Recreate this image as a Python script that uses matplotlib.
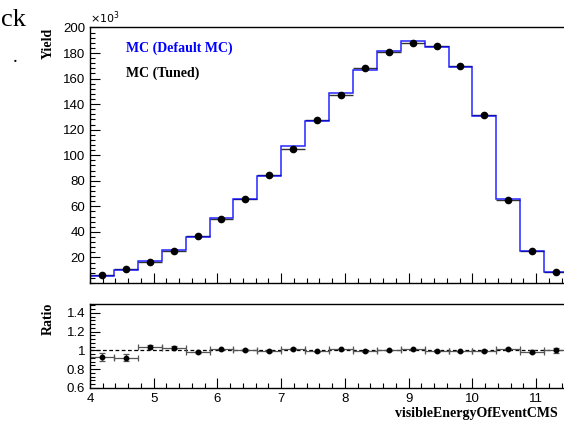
import numpy as np
import matplotlib
matplotlib.use("Agg")
import matplotlib.pyplot as plt
from matplotlib.ticker import MultipleLocator

# binning of visibleEnergyOfEventCMS
bin_edges = np.linspace(4.0, 11.5, 21)
bin_centers = 0.5 * (bin_edges[1:] + bin_edges[:-1])

# yields in units of 10^3
yield_tuned = [6.0, 10.7, 16.7, 25.1, 36.6, 50.0, 65.9, 84.7, 104.8, 127.8,
               147.5, 168.1, 180.9, 187.5, 185.9, 170.0, 131.5, 64.8, 25.4, 8.4]
yield_default = [5.6, 9.9, 17.4, 25.8, 36.1, 50.6, 66.1, 84.1, 107.0, 126.9,
                 149.1, 166.9, 181.4, 189.6, 184.6, 168.8, 130.6, 66.0, 25.0, 8.4]

# default / tuned
ratio = [0.929, 0.925, 1.039, 1.029, 0.986, 1.011, 1.003, 0.993, 1.021, 0.993,
         1.011, 0.993, 1.003, 1.011, 0.993, 0.993, 0.993, 1.018, 0.986, 1.000]
ratio_err = [0.043, 0.035, 0.020, 0.015, 0.010, 0.008, 0.008, 0.007, 0.007, 0.006,
             0.006, 0.006, 0.006, 0.006, 0.006, 0.006, 0.007, 0.010, 0.015, 0.025]

plt.rcParams["font.family"] = ["Liberation Sans", "DejaVu Sans"]
serif = ["Liberation Serif", "DejaVu Serif"]

W, H = 564, 428
fig = plt.figure(figsize=(W / 100, H / 100), dpi=100)

def box(x0, y0, x1, y1):
    return [x0 / W, 1 - y1 / H, (x1 - x0) / W, (y1 - y0) / H]

ax = fig.add_axes(box(90, 27.5, 568, 283))
rax = fig.add_axes(box(90, 303.6, 568, 388))

width = bin_edges[1] - bin_edges[0]

# tuned: horizontal bin bars underneath, default histogram on top, markers last
ax.errorbar(bin_centers, yield_tuned, xerr=width / 2, fmt="none",
            ecolor="#333333", elinewidth=1.0, capsize=0, zorder=1)
ax.stairs(yield_default, bin_edges, color="#0000ff", lw=1.1, baseline=None,
          alpha=0.85, zorder=2)
ax.plot(bin_centers, yield_tuned, "o", color="black", ms=4.5, zorder=3)

ax.set_xlim(4.0, 11.5)
ax.set_ylim(0, 200)
ax.xaxis.set_major_locator(MultipleLocator(1))
ax.xaxis.set_minor_locator(MultipleLocator(0.2))
ax.yaxis.set_minor_locator(MultipleLocator(4))
ax.tick_params(axis="x", labelbottom=False)
ax.set_yticks([20, 40, 60, 80, 100, 120, 140, 160, 180, 200])

ax.text(0.0, 1.005, r"$\times10^{3}$", transform=ax.transAxes, fontsize=8,
        ha="left", va="bottom")
ax.text(0.075, 0.92, "MC (Default MC)", transform=ax.transAxes, color="#0000ff",
        family=serif, fontweight="bold", fontsize=10, ha="left", va="center")
ax.text(0.075, 0.82, "MC (Tuned)", transform=ax.transAxes, color="black",
        family=serif, fontweight="bold", fontsize=10, ha="left", va="center")

rax.axhline(1.0, color="black", lw=0.9, ls=(0, (3, 2)))
rax.errorbar(bin_centers, ratio, xerr=width / 2, yerr=ratio_err, fmt="o",
             color="black", ecolor="#555555", ms=3.2, elinewidth=0.9,
             capsize=2, capthick=0.9)
rax.set_xlim(4.0, 11.5)
rax.set_ylim(0.6, 1.5)
rax.xaxis.set_major_locator(MultipleLocator(1))
rax.xaxis.set_minor_locator(MultipleLocator(0.2))
rax.set_yticks([0.6, 0.8, 1.0, 1.2, 1.4])
rax.set_yticklabels(["0.6", "0.8", "1", "1.2", "1.4"])
rax.yaxis.set_minor_locator(MultipleLocator(0.04))

for a in (ax, rax):
    a.tick_params(which="both", direction="in", top=False, right=False,
                  labelsize=9.5, width=0.8)
    a.tick_params(which="major", length=7)
    a.tick_params(which="minor", length=3.5)
    for s in a.spines.values():
        s.set_linewidth(1.0)

fig.text(48 / W, 1 - 28 / H, "Yield", rotation=90, family=serif,
         fontweight="bold", fontsize=10, ha="center", va="top")
fig.text(48 / W, 1 - 303 / H, "Ratio", rotation=90, family=serif,
         fontweight="bold", fontsize=10, ha="center", va="top")
fig.text(558 / W, 1 - 413 / H, "visibleEnergyOfEventCMS", family=serif,
         fontweight="bold", fontsize=10, ha="right", va="center")

# stray labels on the left of the canvas
fig.text(1 / W, 1 - 20 / H, "ck", family=serif, fontsize=19,
         ha="left", va="center")
fig.text(13 / W, 1 - 58 / H, ".", family=serif, fontsize=14,
         ha="left", va="center")

fig.savefig("out.png", dpi=100)
